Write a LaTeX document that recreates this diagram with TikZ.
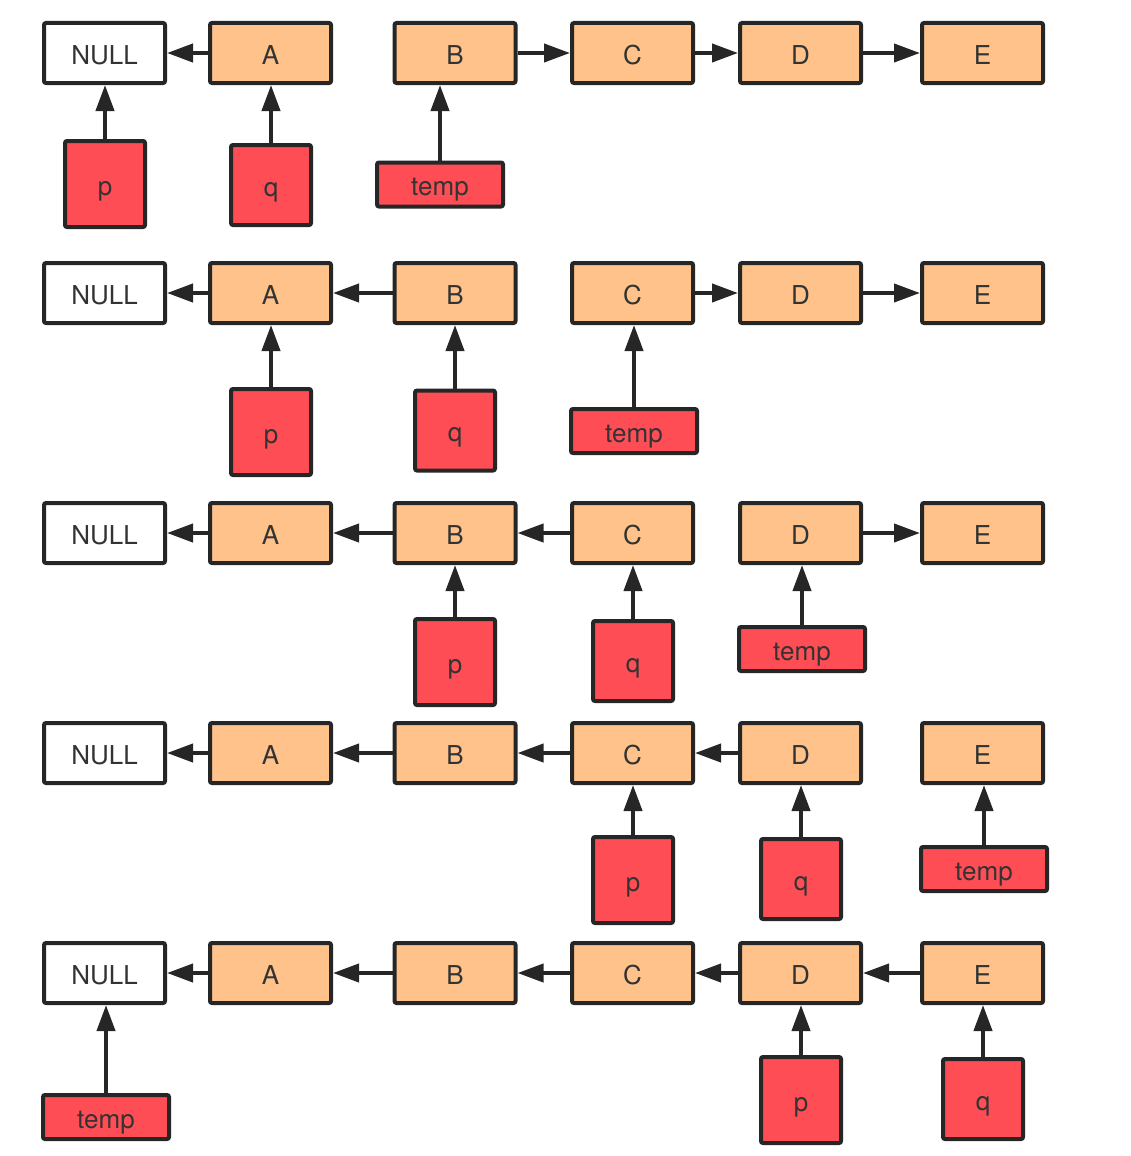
\documentclass[tikz,border=0pt]{standalone}
\usepackage{fontspec}
\setmainfont{TeX Gyre Heros}
\usetikzlibrary{positioning,arrows.meta}
\definecolor{nodefill}{HTML}{FFC28A}
\definecolor{ptrfill}{HTML}{FF4D55}
\definecolor{edgecol}{HTML}{262626}
\definecolor{labelcol}{HTML}{333333}
\tikzset{
    listnode/.style={draw=edgecol, line width=4pt, rounded corners=2pt, fill=nodefill,
        minimum width=121pt, minimum height=60pt, inner sep=0pt, text=labelcol,
        text height=22pt, text depth=0pt, font=\fontsize{26}{30}\selectfont},
    nullnode/.style={listnode, fill=white},
    pnode/.style={listnode, fill=ptrfill, minimum width=80pt, minimum height=86pt},
    qnode/.style={listnode, fill=ptrfill, minimum width=80pt, minimum height=80pt},
    tempnode/.style={listnode, fill=ptrfill, minimum width=126pt, minimum height=44pt},
    link/.style={draw=edgecol, line width=4pt, -{Triangle[length=26pt,width=18pt]}},
}
\begin{document}
\begin{tikzpicture}[x=1pt, y=-1pt]
    \useasboundingbox (0,0) rectangle (1130,1156);

    % the list, once per round
    \foreach \r/\y in {1/53,2/293,3/533,4/753,5/973} {
        \node [nullnode] (N\r) at (104.5,\y) {NULL};
        \foreach \n/\x in {A/270.5,B/455,C/632.5,D/800.5,E/982.5}
            \node [listnode] (\n\r) at (\x,\y) {\n};
    }

    % round 1
    \draw [link] (A1.west) -- (N1.east);
    \draw [link] (B1.east) -- (C1.west);
    \draw [link] (C1.east) -- (D1.west);
    \draw [link] (D1.east) -- (E1.west);
    \node [pnode] (p1) at (105,184) {p};
    \node [qnode] (q1) at (271,185) {q};
    \node [tempnode] (t1) at (440,184.5) {temp};
    \draw [link] (p1.north) -- (p1.north |- N1.south);
    \draw [link] (q1.north) -- (q1.north |- A1.south);
    \draw [link] (t1.north) -- (t1.north |- B1.south);

    % round 2
    \draw [link] (A2.west) -- (N2.east);
    \draw [link] (B2.west) -- (A2.east);
    \draw [link] (C2.east) -- (D2.west);
    \draw [link] (D2.east) -- (E2.west);
    \node [pnode] (p2) at (271,432) {p};
    \node [qnode] (q2) at (455,430.5) {q};
    \node [tempnode] (t2) at (634,431) {temp};
    \draw [link] (p2.north) -- (p2.north |- A2.south);
    \draw [link] (q2.north) -- (q2.north |- B2.south);
    \draw [link] (t2.north) -- (t2.north |- C2.south);

    % round 3
    \draw [link] (A3.west) -- (N3.east);
    \draw [link] (B3.west) -- (A3.east);
    \draw [link] (C3.west) -- (B3.east);
    \draw [link] (D3.east) -- (E3.west);
    \node [pnode] (p3) at (455,662) {p};
    \node [qnode] (q3) at (633,661) {q};
    \node [tempnode] (t3) at (802,649) {temp};
    \draw [link] (p3.north) -- (p3.north |- B3.south);
    \draw [link] (q3.north) -- (q3.north |- C3.south);
    \draw [link] (t3.north) -- (t3.north |- D3.south);

    % round 4
    \draw [link] (A4.west) -- (N4.east);
    \draw [link] (B4.west) -- (A4.east);
    \draw [link] (C4.west) -- (B4.east);
    \draw [link] (D4.west) -- (C4.east);
    \node [pnode] (p4) at (633,880) {p};
    \node [qnode] (q4) at (801,879) {q};
    \node [tempnode] (t4) at (984,869) {temp};
    \draw [link] (p4.north) -- (p4.north |- C4.south);
    \draw [link] (q4.north) -- (q4.north |- D4.south);
    \draw [link] (t4.north) -- (t4.north |- E4.south);

    % round 5
    \draw [link] (A5.west) -- (N5.east);
    \draw [link] (B5.west) -- (A5.east);
    \draw [link] (C5.west) -- (B5.east);
    \draw [link] (D5.west) -- (C5.east);
    \draw [link] (E5.west) -- (D5.east);
    \node [tempnode] (t5) at (106,1117) {temp};
    \node [pnode] (p5) at (801,1100) {p};
    \node [qnode] (q5) at (983,1099) {q};
    \draw [link] (t5.north) -- (t5.north |- N5.south);
    \draw [link] (p5.north) -- (p5.north |- D5.south);
    \draw [link] (q5.north) -- (q5.north |- E5.south);
\end{tikzpicture}
\end{document}
